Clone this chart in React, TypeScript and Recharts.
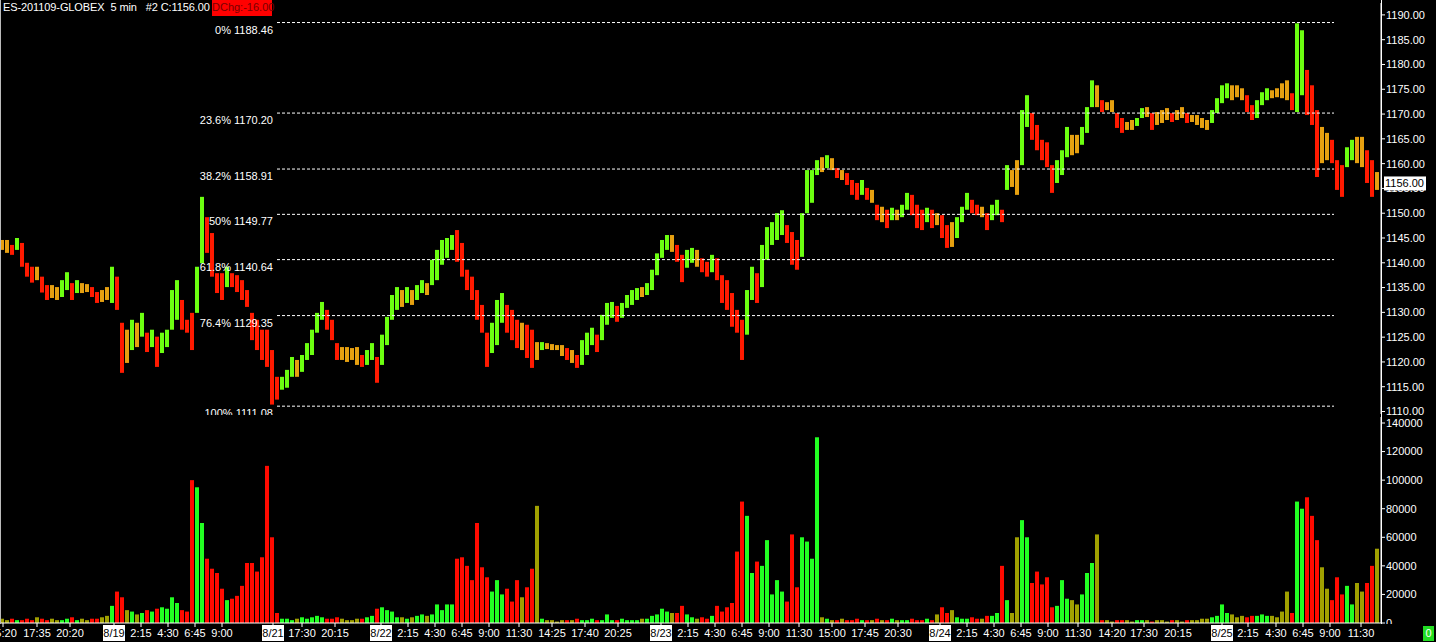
import React from 'react';
import { ComposedChart, Bar, XAxis, YAxis, ReferenceLine } from 'recharts';

const WIDTH = 1436;
const AXIS_W = 55;
const TIME_END = 1381; // time axis in 5-minute bars, one bar per pixel
const SLOT = 5; // every plotted bar groups five 5-minute bars
const FONT = '"Liberation Sans", Arial, sans-serif';

// ES 5 min, grouped by 25 minutes: high / low of each group
const highs = [
  1144.6, 1144.6, 1143.6, 1145.0, 1144.0, 1140.0, 1139.2, 1139.2, 1137.2, 1135.5,
  1135.5, 1135.1, 1136.5, 1138.1, 1135.9, 1136.5, 1135.9, 1135.7, 1135.1, 1134.1,
  1134.5, 1135.1, 1139.2, 1137.2, 1127.9, 1126.5, 1128.5, 1127.9, 1129.9, 1125.9,
  1126.5, 1125.1, 1125.9, 1126.5, 1134.5, 1136.5, 1132.5, 1128.5, 1129.9, 1139.2,
  1153.3, 1149.2, 1146.0, 1137.9, 1137.9, 1139.2, 1137.9, 1137.5, 1136.5, 1134.5,
  1129.9, 1128.5, 1126.5, 1126.5, 1122.4, 1117.0, 1117.0, 1118.4, 1121.0, 1120.4,
  1121.4, 1123.8, 1126.5, 1129.9, 1132.1, 1130.5, 1128.5, 1123.8, 1123.0, 1123.0,
  1122.8, 1123.0, 1121.4, 1122.4, 1123.8, 1121.0, 1125.5, 1129.1, 1133.5, 1135.1,
  1134.5, 1135.1, 1134.5, 1135.5, 1136.5, 1135.9, 1140.6, 1142.6, 1144.6, 1145.0,
  1145.6, 1146.6, 1144.0, 1138.6, 1137.2, 1134.5, 1131.5, 1125.9, 1127.9, 1132.5,
  1133.9, 1131.5, 1130.5, 1128.5, 1127.9, 1127.5, 1126.5, 1124.0, 1124.0, 1123.8,
  1123.6, 1123.4, 1123.4, 1122.8, 1122.4, 1121.4, 1124.4, 1125.9, 1126.9, 1125.5,
  1129.5, 1131.9, 1132.1, 1131.3, 1131.9, 1133.5, 1134.5, 1134.9, 1135.1, 1135.9,
  1138.6, 1141.9, 1144.6, 1145.6, 1145.6, 1143.6, 1141.6, 1142.6, 1143.0, 1142.6,
  1140.9, 1140.2, 1141.6, 1140.9, 1137.5, 1136.5, 1133.9, 1130.5, 1128.5, 1134.5,
  1139.2, 1137.9, 1143.6, 1147.2, 1148.2, 1150.0, 1150.6, 1147.6, 1146.2, 1144.6,
  1150.0, 1158.7, 1158.7, 1160.7, 1161.3, 1161.7, 1161.1, 1159.1, 1158.7, 1158.1,
  1156.7, 1156.1, 1156.7, 1155.1, 1154.7, 1151.7, 1151.3, 1150.7, 1151.1, 1150.7,
  1151.7, 1154.1, 1153.7, 1151.7, 1150.7, 1151.1, 1150.7, 1150.0, 1149.6, 1147.6,
  1148.2, 1149.2, 1151.3, 1154.1, 1152.7, 1151.7, 1151.3, 1150.0, 1151.7, 1152.7,
  1150.7, 1159.7, 1158.7, 1160.7, 1170.8, 1173.8, 1170.2, 1167.8, 1164.8, 1164.3,
  1159.7, 1160.7, 1162.7, 1167.4, 1165.8, 1165.8, 1167.4, 1171.4, 1176.8, 1175.8,
  1172.8, 1172.4, 1172.8, 1170.2, 1169.2, 1168.4, 1168.8, 1169.2, 1171.2, 1171.4,
  1170.2, 1170.4, 1170.8, 1171.2, 1170.2, 1170.8, 1171.4, 1170.2, 1169.8, 1169.8,
  1169.2, 1168.8, 1170.8, 1173.2, 1175.8, 1176.2, 1175.8, 1175.8, 1175.2, 1173.8,
  1171.8, 1172.8, 1174.4, 1175.2, 1174.8, 1175.2, 1176.2, 1176.8, 1174.2, 1188.3,
  1186.9, 1178.9, 1175.8, 1170.8, 1167.4, 1166.2, 1164.8, 1160.7, 1159.7, 1163.3,
  1164.8, 1165.4, 1165.4, 1162.7, 1160.7, 1158.3,
];

const lows = [
  1142.6, 1142.0, 1141.6, 1142.6, 1139.2, 1137.2, 1136.0, 1136.5, 1134.0, 1132.5,
  1132.9, 1132.5, 1133.1, 1134.5, 1132.5, 1133.9, 1133.9, 1134.1, 1133.1, 1131.9,
  1132.1, 1132.5, 1131.9, 1130.5, 1117.8, 1119.8, 1122.4, 1123.0, 1125.1, 1122.0,
  1123.0, 1119.0, 1121.8, 1123.0, 1126.5, 1128.5, 1126.5, 1125.9, 1122.4, 1129.9,
  1139.9, 1142.0, 1137.2, 1133.9, 1132.5, 1135.1, 1135.1, 1134.1, 1132.5, 1131.1,
  1124.4, 1122.4, 1120.4, 1119.0, 1111.4, 1112.4, 1114.4, 1114.8, 1117.0, 1117.0,
  1118.0, 1120.4, 1121.4, 1125.9, 1128.5, 1126.5, 1124.4, 1120.4, 1120.4, 1120.0,
  1120.4, 1119.4, 1119.0, 1119.4, 1120.4, 1115.8, 1119.4, 1123.4, 1128.5, 1130.5,
  1131.1, 1131.9, 1131.5, 1132.5, 1133.9, 1133.5, 1135.5, 1136.5, 1139.6, 1141.0,
  1142.6, 1140.2, 1137.2, 1134.5, 1132.5, 1128.5, 1125.9, 1119.0, 1121.8, 1123.4,
  1127.9, 1125.9, 1124.4, 1122.8, 1122.4, 1120.8, 1118.8, 1120.4, 1122.4, 1122.6,
  1122.4, 1122.4, 1121.2, 1120.4, 1119.8, 1118.8, 1119.4, 1121.4, 1123.4, 1122.0,
  1124.4, 1127.5, 1128.9, 1128.1, 1128.9, 1130.9, 1131.5, 1132.5, 1133.1, 1133.5,
  1134.5, 1137.5, 1141.0, 1142.6, 1142.2, 1140.2, 1136.1, 1139.0, 1140.0, 1139.2,
  1138.1, 1137.2, 1138.1, 1136.5, 1131.9, 1130.5, 1127.1, 1125.9, 1120.4, 1125.5,
  1132.5, 1131.9, 1135.1, 1140.6, 1143.6, 1144.6, 1145.6, 1144.0, 1139.6, 1138.6,
  1141.2, 1150.0, 1152.1, 1157.7, 1158.3, 1159.1, 1158.7, 1157.1, 1156.7, 1155.7,
  1153.7, 1152.7, 1153.7, 1152.7, 1152.1, 1148.6, 1148.2, 1147.0, 1148.6, 1148.6,
  1149.2, 1150.7, 1149.6, 1147.0, 1146.6, 1148.2, 1147.0, 1147.6, 1145.0, 1143.0,
  1143.2, 1145.0, 1148.2, 1150.7, 1150.0, 1149.6, 1149.2, 1146.6, 1148.6, 1149.6,
  1148.2, 1154.7, 1155.3, 1153.7, 1159.7, 1167.4, 1164.8, 1162.7, 1160.7, 1159.3,
  1154.1, 1156.1, 1157.7, 1161.3, 1161.7, 1162.1, 1163.8, 1166.2, 1171.4, 1171.4,
  1170.4, 1170.8, 1170.4, 1167.2, 1166.2, 1166.8, 1166.8, 1167.6, 1169.2, 1169.4,
  1166.8, 1167.8, 1168.2, 1168.8, 1168.4, 1168.8, 1169.2, 1168.2, 1168.4, 1167.8,
  1167.2, 1166.8, 1168.2, 1170.2, 1172.2, 1173.2, 1172.8, 1173.4, 1172.8, 1170.4,
  1168.8, 1169.2, 1171.8, 1172.8, 1173.2, 1173.4, 1173.2, 1172.8, 1170.8, 1170.4,
  1173.8, 1169.8, 1167.8, 1157.3, 1160.1, 1160.7, 1160.1, 1154.7, 1153.3, 1159.3,
  1160.7, 1160.1, 1159.3, 1156.1, 1153.3, 1154.7,
];

// volume per group, thousands of contracts
const volumes = [
  3, 2, 3, 2, 2, 3, 2, 4, 3, 2,
  3, 2, 2, 3, 4, 2, 3, 2, 3, 3,
  4, 5, 12, 22, 18, 9, 8, 6, 7, 9,
  8, 10, 11, 10, 18, 14, 9, 8, 100, 95,
  70, 45, 38, 35, 24, 16, 17, 19, 26, 42,
  42, 36, 46, 110, 60, 7, 3, 3, 2, 3,
  4, 3, 4, 5, 4, 3, 3, 4, 3, 2,
  2, 3, 3, 4, 5, 10, 11, 9, 8, 4,
  4, 3, 4, 5, 6, 5, 6, 13, 9, 13,
  13, 45, 46, 40, 30, 70, 39, 32, 22, 30,
  20, 24, 15, 30, 18, 25, 38, 82, 3, 2,
  2, 1, 2, 2, 2, 3, 2, 2, 3, 2,
  2, 6, 2, 2, 3, 2, 2, 2, 3, 3,
  5, 6, 10, 8, 7, 7, 12, 6, 4, 3,
  4, 3, 5, 12, 8, 11, 14, 50, 85, 75,
  35, 43, 40, 58, 20, 30, 22, 15, 62, 25,
  60, 57, 45, 130, 4, 3, 2, 2, 3, 2,
  2, 3, 2, 2, 2, 3, 2, 2, 3, 2,
  2, 2, 3, 2, 2, 3, 2, 6, 11, 7,
  9, 4, 3, 3, 4, 3, 3, 5, 5, 7,
  40, 16, 7, 60, 72, 60, 28, 36, 27, 32,
  11, 12, 30, 17, 16, 13, 20, 35, 42, 62,
  2, 2, 1, 2, 2, 2, 1, 2, 2, 2,
  1, 2, 2, 1, 2, 2, 1, 2, 2, 2,
  3, 3, 4, 5, 13, 7, 6, 4, 5, 4,
  5, 5, 6, 5, 5, 4, 8, 22, 7, 85,
  80, 88, 75, 58, 39, 24, 16, 32, 20, 26,
  13, 28, 22, 28, 40, 52,
];

const fibNames = ['0%', '23.6%', '38.2%', '50%', '61.8%', '76.4%', '100%'];
const fibLevels = [1188.46, 1170.2, 1158.91, 1149.77, 1140.64, 1129.35, 1111.08];
const fibFromBar = 277;
const fibToBar = 1334;

const priceTicks = [1110, 1115, 1120, 1125, 1130, 1135, 1140, 1145, 1150, 1155, 1160, 1165, 1170, 1175, 1180, 1185, 1190];
const volumeTicks = [0, 20000, 40000, 60000, 80000, 100000, 120000, 140000];

const timeTickBars = [
  3, 37, 70, 114, 141, 168, 195, 222, 273, 302, 335,
  381, 408, 435, 462, 489, 519, 552, 585, 618,
  661, 688, 715, 742, 769, 799, 832, 865, 898,
  940, 967, 994, 1021, 1048, 1078, 1112, 1144, 1178,
  1222, 1248, 1276, 1303, 1330, 1361,
];
const timeTickLabels = [
  '15:20', '17:35', '20:20', '8/19', '2:15', '4:30', '6:45', '9:00', '8/21', '17:30', '20:15',
  '8/22', '2:15', '4:30', '6:45', '9:00', '11:30', '14:25', '17:40', '20:25',
  '8/23', '2:15', '4:30', '6:45', '9:00', '11:30', '15:00', '17:45', '20:30',
  '8/24', '2:15', '4:30', '6:45', '9:00', '11:30', '14:20', '17:30', '20:15',
  '8/25', '2:15', '4:30', '6:45', '9:00', '11:30',
];

const lastClose = 1156;
const dayChange = -16;

const PRICE_COLORS: Record<string, string> = { up: '#6cff10', down: '#ff1a00', flat: '#e6a010' };
const VOLUME_COLORS: Record<string, string> = { up: '#22ff22', down: '#ff0a00', flat: '#a0a000' };

const data = highs.map((hi, i) => {
  const lo = lows[i];
  const mid = (hi + lo) / 2;
  const prev = i > 0 ? (highs[i - 1] + lows[i - 1]) / 2 : mid;
  const move = mid - prev;
  return {
    t: i * SLOT + SLOT / 2,
    range: [lo, hi],
    vol: volumes[i] * 1000,
    dir: move > 0.6 ? 'up' : move < -0.6 ? 'down' : 'flat',
  };
});

const PriceBar = (props: any) => {
  const { x, y, width, height, payload } = props;
  return <rect x={x} y={y} width={width} height={Math.max(height, 1)} fill={PRICE_COLORS[payload.dir]} />;
};

const VolumeBar = (props: any) => {
  const { x, y, width, height, payload } = props;
  return <rect x={x} y={y} width={width} height={Math.max(height, 1)} fill={VOLUME_COLORS[payload.dir]} />;
};

const FibLabel = (props: any) => {
  const vb = props.viewBox || { x: 0, y: 0 };
  return (
    <text x={vb.x - 4} y={vb.y + 11} textAnchor="end" fill="#fff" fontSize={11} fontFamily={FONT}>
      {props.text}
    </text>
  );
};

const PriceTag = (props: any) => {
  const vb = props.viewBox || { x: 0, y: 0, width: 0 };
  const x = vb.x + vb.width + 3;
  return (
    <g>
      <rect x={x} y={vb.y - 7} width={42} height={14} fill="#fff" />
      <text x={x + 1} y={vb.y + 4} fill="#000" fontSize={11} fontFamily={FONT}>
        {lastClose.toFixed(2)}
      </text>
    </g>
  );
};

const TimeTick = (props: any) => {
  const { x, y, payload } = props;
  const label = timeTickLabels[timeTickBars.indexOf(payload.value)] ?? '';
  const isDate = label.includes('/');
  return (
    <g>
      {isDate && <rect x={x - 11} y={y - 4} width={22} height={16} fill="#fff" />}
      <text x={x} y={y + 8} textAnchor="middle" fill={isDate ? '#000' : '#fff'} fontSize={11} fontFamily={FONT}>
        {label}
      </text>
    </g>
  );
};

const axisTick = { fill: '#fff', fontSize: 11, fontFamily: FONT };

export default function App() {
  return (
    <div style={{ position: 'relative', width: WIDTH, height: 642, background: '#000', fontFamily: FONT, overflow: 'hidden' }}>
      <style>{'body{margin:0;background:#000}'}</style>

      <div style={{ position: 'absolute', left: 0, top: 0 }}>
        <ComposedChart width={WIDTH} height={415} data={data} margin={{ top: 3, right: 0, bottom: 1, left: 0 }}>
          <XAxis type="number" dataKey="t" domain={[0, TIME_END]} hide allowDataOverflow />
          <YAxis
            orientation="right"
            width={AXIS_W}
            domain={[1109.5, 1192.4]}
            ticks={priceTicks}
            allowDataOverflow
            interval={0}
            tick={axisTick}
            tickFormatter={(v: number) => v.toFixed(2)}
            tickLine={{ stroke: '#fff' }}
            axisLine={{ stroke: '#fff' }}
            tickSize={4}
            tickMargin={1}
          />
          {fibLevels.map((lvl, i) => (
            <ReferenceLine
              key={lvl}
              segment={[{ x: fibFromBar, y: lvl }, { x: fibToBar, y: lvl }]}
              stroke="#fff"
              strokeDasharray="3 2"
              label={<FibLabel text={`${fibNames[i]} ${lvl.toFixed(2)}`} />}
            />
          ))}
          <Bar dataKey="range" barSize={4} shape={PriceBar} isAnimationActive={false} />
        </ComposedChart>
      </div>

      {/* last price tag drawn above the axis labels */}
      <div style={{ position: 'absolute', left: 0, top: 0 }}>
        <ComposedChart width={WIDTH} height={415} data={data} margin={{ top: 3, right: AXIS_W, bottom: 1, left: 0 }}>
          <XAxis type="number" dataKey="t" domain={[0, TIME_END]} hide allowDataOverflow />
          <YAxis domain={[1109.5, 1192.4]} hide allowDataOverflow />
          <ReferenceLine y={lastClose} stroke="none" label={<PriceTag />} />
        </ComposedChart>
      </div>

      <div style={{ position: 'absolute', left: 0, top: 415, background: '#000' }}>
        <ComposedChart width={WIDTH} height={227} data={data} margin={{ top: 2, right: 0, bottom: 0, left: 0 }}>
          <XAxis
            type="number"
            dataKey="t"
            domain={[0, TIME_END]}
            allowDataOverflow
            ticks={timeTickBars}
            interval={0}
            height={19}
            tick={<TimeTick />}
            tickLine={{ stroke: '#fff' }}
            axisLine={{ stroke: '#fff' }}
            tickSize={4}
          />
          <YAxis
            orientation="right"
            width={AXIS_W}
            domain={[0, 144200]}
            ticks={volumeTicks}
            allowDataOverflow
            interval={0}
            tick={axisTick}
            tickLine={{ stroke: '#fff' }}
            axisLine={{ stroke: '#fff' }}
            tickSize={4}
            tickMargin={1}
          />
          <Bar dataKey="vol" barSize={4} shape={VolumeBar} isAnimationActive={false} />
        </ComposedChart>
      </div>

      {/* frame lines */}
      <div style={{ position: 'absolute', left: 0, top: 0, width: 1, height: 624, background: '#bbb' }} />
      <div style={{ position: 'absolute', left: 1381, top: 0, width: 1, height: 624, background: '#fff' }} />
      <div style={{ position: 'absolute', left: 1382, top: 624, width: 54, height: 18, background: '#000' }} />

      {/* header */}
      <div style={{ position: 'absolute', left: 3, top: 1, color: '#fff', fontSize: 11, letterSpacing: '-0.1px', whiteSpace: 'pre', lineHeight: '13px' }}>
        {`ES-201109-GLOBEX  5 min   #2 C:${lastClose.toFixed(2)}`}
      </div>
      <div
        style={{
          position: 'absolute', left: 212, top: 0, width: 60, height: 16, background: '#ff0000',
          color: '#7a0000', fontSize: 11, lineHeight: '15px', whiteSpace: 'pre',
        }}
      >
        {`DChg:${dayChange.toFixed(2)}`}
      </div>

      <div
        style={{
          position: 'absolute', left: 1423, top: 626, width: 11, height: 15, background: '#22dd22',
          color: '#fff', fontSize: 11, lineHeight: '15px', textAlign: 'center',
        }}
      >
        0
      </div>
    </div>
  );
}
